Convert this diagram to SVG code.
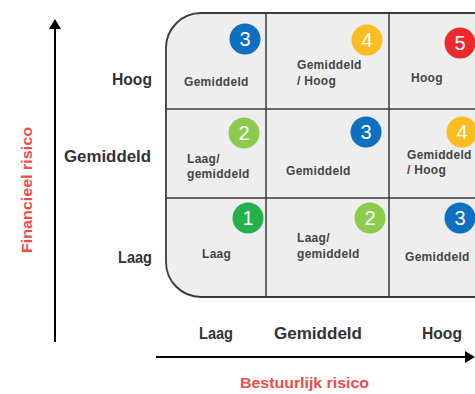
<svg xmlns="http://www.w3.org/2000/svg" width="475" height="394" viewBox="0 0 475 394">
<defs>
<style>
.cell{font-family:"Liberation Sans",Arial,sans-serif;font-size:12px;font-weight:bold;fill:#454545;letter-spacing:0.3px}
.ax{font-family:"Liberation Sans",Arial,sans-serif;font-size:16px;font-weight:bold;fill:#333}
.red{font-family:"Liberation Sans",Arial,sans-serif;font-size:15.5px;font-weight:bold;fill:#f04a4a}
.num{font-family:"Liberation Sans",Arial,sans-serif;font-size:20px;fill:#fff;text-anchor:middle}
.grid{stroke:#3a3a3a;stroke-width:1.5;fill:none}
</style>
<marker id="ah" markerWidth="10" markerHeight="12" refX="8" refY="6" orient="auto" markerUnits="userSpaceOnUse"><path d="M0,0 L10,6 L0,12 Z" fill="#000"/></marker>
</defs>
<rect width="475" height="394" fill="#fff"/>
<g id="matrix">
<rect x="166" y="13" width="346" height="284" rx="35" ry="35" fill="#eeeeee" stroke="#3a3a3a" stroke-width="1.8"/>
<line class="grid" x1="266" y1="13" x2="266" y2="297"/>
<line class="grid" x1="389" y1="13" x2="389" y2="297"/>
<line class="grid" x1="166" y1="109" x2="512" y2="109"/>
<line class="grid" x1="166" y1="198" x2="512" y2="198"/>
</g>
<g id="cell-r1c1"><circle cx="245" cy="39" r="15.5" fill="#0f6fc0"/><text class="num" x="245" y="46">3</text><text class="cell" x="184" y="86">Gemiddeld</text></g>
<g id="cell-r1c2"><circle cx="367" cy="40" r="15.5" fill="#fbbd22"/><text class="num" x="367" y="47">4</text><text class="cell" x="297" y="69">Gemiddeld</text><text class="cell" x="297" y="85">/ Hoog</text></g>
<g id="cell-r1c3"><circle cx="460" cy="43" r="15.5" fill="#ec2a2c"/><text class="num" x="460" y="50">5</text><text class="cell" x="411" y="82">Hoog</text></g>
<g id="cell-r2c1"><circle cx="244" cy="133" r="15.5" fill="#8ccb4e"/><text class="num" x="244" y="140">2</text><text class="cell" x="187" y="163">Laag/</text><text class="cell" x="187" y="178">gemiddeld</text></g>
<g id="cell-r2c2"><circle cx="366" cy="132" r="15.5" fill="#0f6fc0"/><text class="num" x="366" y="139">3</text><text class="cell" x="286" y="175">Gemiddeld</text></g>
<g id="cell-r2c3"><circle cx="462" cy="132" r="15.5" fill="#fbbd22"/><text class="num" x="462" y="139">4</text><text class="cell" x="407" y="159">Gemiddeld</text><text class="cell" x="407" y="174">/ Hoog</text></g>
<g id="cell-r3c1"><circle cx="248" cy="218" r="15.5" fill="#23b04d"/><text class="num" x="248" y="225">1</text><text class="cell" x="202" y="258">Laag</text></g>
<g id="cell-r3c2"><circle cx="370" cy="218" r="15.5" fill="#8ccb4e"/><text class="num" x="370" y="225">2</text><text class="cell" x="297" y="242">Laag/</text><text class="cell" x="297" y="258">gemiddeld</text></g>
<g id="cell-r3c3"><circle cx="460" cy="218" r="15.5" fill="#0f6fc0"/><text class="num" x="460" y="225">3</text><text class="cell" x="405" y="261">Gemiddeld</text></g>
<g id="connectors">
<line x1="55" y1="342" x2="55" y2="21" stroke="#000" stroke-width="2" marker-end="url(#ah)"/>
<line x1="156" y1="357" x2="473" y2="357" stroke="#000" stroke-width="2" marker-end="url(#ah)"/>
</g>
<g id="y-labels">
<text class="ax" x="112" y="85" textLength="40" lengthAdjust="spacingAndGlyphs">Hoog</text>
<text class="ax" x="64" y="162" textLength="87" lengthAdjust="spacingAndGlyphs">Gemiddeld</text>
<text class="ax" x="118" y="263" textLength="34" lengthAdjust="spacingAndGlyphs">Laag</text>
<text class="red" transform="translate(32,253) rotate(-90)" textLength="126" lengthAdjust="spacingAndGlyphs">Financieel risico</text>
</g>
<g id="x-labels">
<text class="ax" x="199" y="339" textLength="34" lengthAdjust="spacingAndGlyphs">Laag</text>
<text class="ax" x="274" y="339" textLength="88" lengthAdjust="spacingAndGlyphs">Gemiddeld</text>
<text class="ax" x="422" y="339" textLength="40" lengthAdjust="spacingAndGlyphs">Hoog</text>
<text class="red" x="240" y="388" textLength="129" lengthAdjust="spacingAndGlyphs">Bestuurlijk risico</text>
</g>
</svg>
